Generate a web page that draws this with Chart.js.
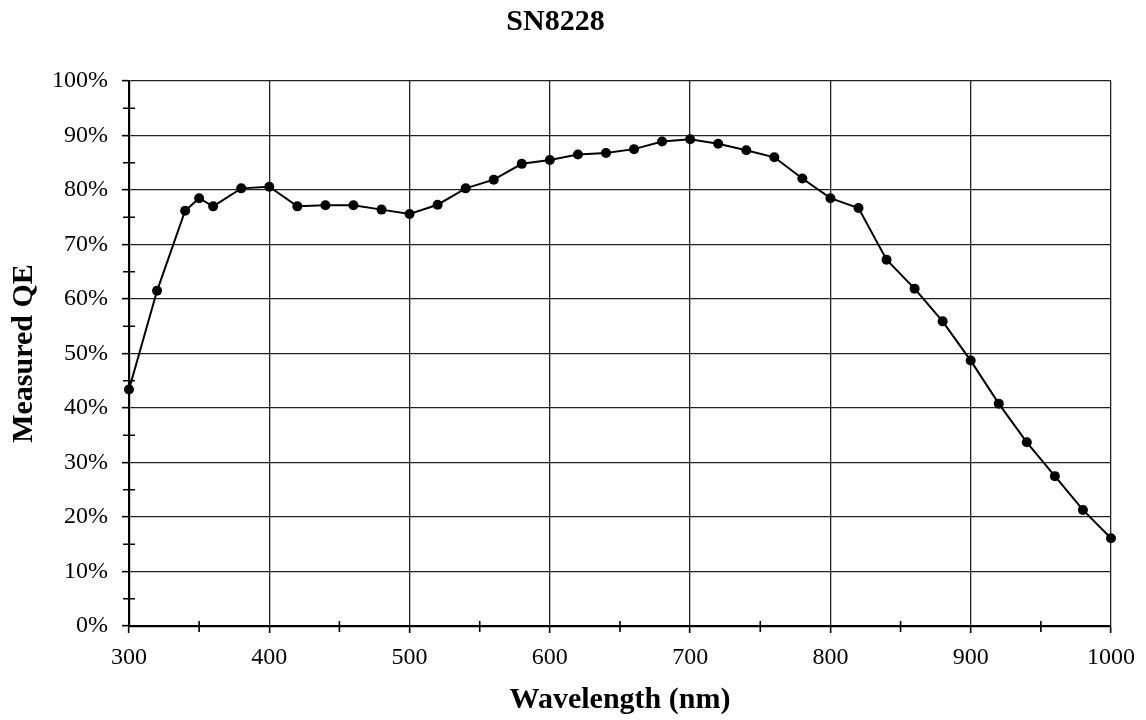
<!doctype html>
<html>

<head>
  <script src="https://cdn.jsdelivr.net/npm/chart.js@4/dist/chart.umd.min.js"></script>
  <style>
    html, body { margin: 0; padding: 0; background: #fff; }
    #wrap { width: 1146px; height: 720px; }
  </style>
</head>

<body>
  <div id="wrap">
    <canvas id="canvas"></canvas>
  </div>
  <script>
    // wavelength (nm) and measured QE (%)
    const wavelengths = [300, 320, 340, 350, 360, 380, 400, 420, 440, 460, 480, 500, 520, 540, 560, 580, 600,
      620, 640, 660, 680, 700, 720, 740, 760, 780, 800, 820, 840, 860, 880, 900, 920, 940, 960, 980, 1000];
    const measuredQE = [43.4, 61.5, 76.2, 78.5, 77.0, 80.3, 80.6, 77.0, 77.2, 77.2, 76.4, 75.6, 77.3, 80.3, 81.9, 84.8, 85.5,
      86.5, 86.8, 87.5, 88.9, 89.3, 88.5, 87.3, 86.0, 82.1, 78.5, 76.7, 67.2, 61.9, 55.9, 48.7, 40.8, 33.7, 27.5, 21.3, 16.1];
    const xMinorTicks = [350, 450, 550, 650, 750, 850, 950];
    const yMinorTicks = [5, 15, 25, 35, 45, 55, 65, 75, 85, 95];

    const serif = 'Liberation Serif';

    // small ticks that cross the axis lines, like the original
    const minorTicks = {
      id: 'minorTicks',
      afterDraw(chart) {
        const { ctx, scales: { x, y } } = chart;
        ctx.save();
        ctx.strokeStyle = '#000';
        ctx.lineWidth = 1.6;
        ctx.beginPath();
        xMinorTicks.forEach((v) => {
          const px = x.getPixelForValue(v);
          ctx.moveTo(px, y.bottom - 5);
          ctx.lineTo(px, y.bottom + 6);
        });
        yMinorTicks.forEach((v) => {
          const py = y.getPixelForValue(v);
          ctx.moveTo(x.left - 6, py);
          ctx.lineTo(x.left + 6, py);
        });
        ctx.stroke();
        ctx.restore();
      }
    };

    new Chart(document.getElementById('canvas').getContext('2d'), {
      type: 'line',
      data: {
        datasets: [{
          data: wavelengths.map((w, i) => ({ x: w, y: measuredQE[i] })),
          borderColor: '#000',
          borderWidth: 2,
          pointBackgroundColor: '#000',
          pointBorderColor: '#000',
          pointRadius: 5,
          pointBorderWidth: 0,
          tension: 0,
          clip: false
        }]
      },
      options: {
        responsive: true,
        maintainAspectRatio: false,
        animation: false,
        layout: {
          padding: { left: 0, right: 35, top: 0, bottom: 2 }
        },
        plugins: {
          legend: { display: false },
          tooltip: { enabled: false },
          title: {
            display: true,
            text: 'SN8228',
            color: '#000',
            font: { family: serif, size: 30, weight: 'bold' },
            padding: { top: 4, bottom: 41 }
          }
        },
        scales: {
          x: {
            type: 'linear',
            min: 300,
            max: 1000,
            afterFit: (scale) => { scale.height = 92; },
            ticks: {
              stepSize: 100,
              color: '#000',
              padding: 10,
              font: { family: serif, size: 24 },
              callback: (v) => String(v)
            },
            grid: {
              color: '#222',
              lineWidth: 1.3,
              tickLength: 7,
              tickColor: '#000',
              tickWidth: 1.6
            },
            border: { color: '#000', width: 2.2 },
            title: {
              display: true,
              text: 'Wavelength (nm)',
              color: '#000',
              font: { family: serif, size: 30, weight: 'bold' },
              padding: { top: 2, bottom: 0 }
            }
          },
          y: {
            min: 0,
            max: 100,
            afterFit: (scale) => { scale.width = 129; },
            ticks: {
              stepSize: 10,
              color: '#000',
              padding: 14,
              font: { family: serif, size: 24 },
              callback: (v) => v + '%'
            },
            grid: {
              color: '#222',
              lineWidth: 1.3,
              tickLength: 7,
              tickColor: '#000',
              tickWidth: 1.6
            },
            border: { color: '#000', width: 2.2 },
            title: {
              display: true,
              text: 'Measured QE',
              color: '#000',
              font: { family: serif, size: 30, weight: 'bold' },
              padding: { top: 6, bottom: 0 }
            }
          }
        }
      },
      plugins: [minorTicks]
    });
  </script>
</body>

</html>
